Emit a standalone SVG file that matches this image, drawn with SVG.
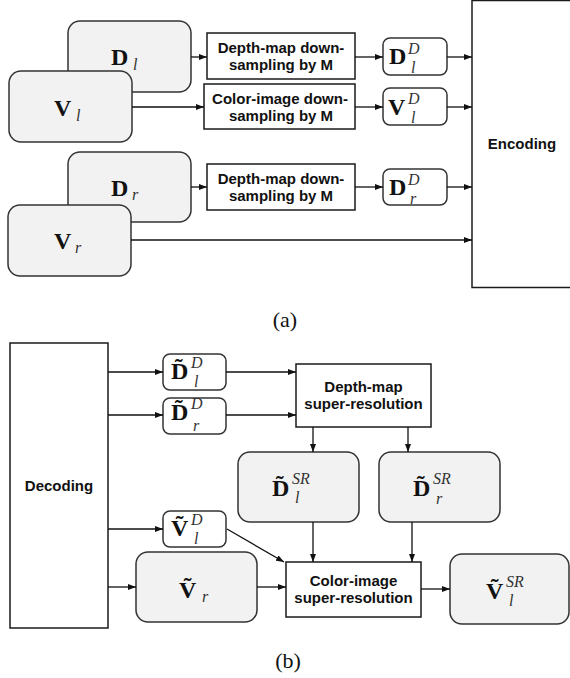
<svg xmlns="http://www.w3.org/2000/svg" width="570" height="678" viewBox="0 0 570 678">
<style>
.box{fill:#fff;stroke:#1a1a1a;stroke-width:1.5}
.rbox{fill:#f2f2f2;stroke:#333;stroke-width:1.5}
.sbox{fill:#fff;stroke:#333;stroke-width:1.5}
.lbl{font-family:"Liberation Sans",Arial,sans-serif;font-weight:bold;font-size:15px;fill:#111;text-anchor:middle}
.m{font-family:"Liberation Serif","Times New Roman",serif;font-weight:bold;font-size:24px;fill:#111}
.s{font-family:"Liberation Serif","Times New Roman",serif;font-style:italic;font-size:16px;fill:#333}
.cap{font-family:"Liberation Serif","Times New Roman",serif;font-size:22px;fill:#111;text-anchor:middle}
.c{stroke:#111;stroke-width:1.3;fill:none;marker-end:url(#ah)}
</style>
<defs>
<marker id="ah" markerWidth="8" markerHeight="6" refX="8" refY="3" orient="auto" markerUnits="userSpaceOnUse">
<path d="M0,0 L8,3 L0,6 z" fill="#111"/>
</marker>
</defs>

<!-- (a) -->
<g id="Dl"><rect class="rbox" x="68" y="21" width="123" height="71" rx="12"/><text class="m" x="111" y="65">D</text><text class="s" x="133" y="70">l</text></g>
<g id="Vl"><rect class="rbox" x="9" y="71" width="123" height="71" rx="12"/><text class="m" x="54" y="116">V</text><text class="s" x="76" y="121">l</text></g>
<g id="Dr"><rect class="rbox" x="68" y="152" width="123" height="70" rx="12"/><text class="m" x="111" y="196">D</text><text class="s" x="132" y="200">r</text></g>
<g id="Vr"><rect class="rbox" x="8" y="205" width="123" height="71" rx="12"/><text class="m" x="54" y="249">V</text><text class="s" x="75" y="253">r</text></g>

<g id="dsD1"><rect class="box" x="207" y="33" width="148" height="46"/><text class="lbl" x="281" y="53">Depth-map down-</text><text class="lbl" x="281" y="70">sampling by M</text></g>
<g id="dsV"><rect class="box" x="204" y="84" width="151" height="45"/><text class="lbl" x="280" y="104">Color-image down-</text><text class="lbl" x="281" y="121">sampling by M</text></g>
<g id="dsD2"><rect class="box" x="207" y="164" width="148" height="46"/><text class="lbl" x="281" y="184">Depth-map down-</text><text class="lbl" x="281" y="201">sampling by M</text></g>

<g id="DlD"><rect class="sbox" x="383" y="38" width="64" height="37" rx="7"/><text class="m" x="389" y="64">D</text><text class="s" x="408" y="54">D</text><text class="s" x="411" y="73">l</text></g>
<g id="VlD"><rect class="sbox" x="383" y="88" width="64" height="37" rx="7"/><text class="m" x="388" y="115">V</text><text class="s" x="408" y="104">D</text><text class="s" x="411" y="123">l</text></g>
<g id="DrD"><rect class="sbox" x="383" y="169" width="64" height="36" rx="7"/><text class="m" x="389" y="195">D</text><text class="s" x="408" y="185">D</text><text class="s" x="410" y="204">r</text></g>

<g id="enc"><rect class="box" x="472" y="0.5" width="110" height="287"/><text class="lbl" x="522" y="149">Encoding</text></g>

<text class="cap" x="285" y="327">(a)</text>

<!-- (b) -->
<g id="dec"><rect class="box" x="10" y="343" width="98" height="285"/><text class="lbl" x="59" y="491">Decoding</text></g>

<g id="tDlD"><rect class="sbox" x="163" y="354" width="63" height="36" rx="7"/><text class="m" x="171" y="379">D&#x303;</text><text class="s" x="191" y="368">D</text><text class="s" x="194" y="387">l</text></g>
<g id="tDrD"><rect class="sbox" x="163" y="398" width="63" height="36" rx="7"/><text class="m" x="171" y="420">D&#x303;</text><text class="s" x="191" y="409">D</text><text class="s" x="193" y="431">r</text></g>
<g id="tVlD"><rect class="sbox" x="163" y="511" width="63" height="36" rx="7"/><text class="m" x="171" y="536">V&#x303;</text><text class="s" x="191" y="525">D</text><text class="s" x="194" y="544">l</text></g>

<g id="dsr"><rect class="box" x="296" y="364" width="135" height="63"/><text class="lbl" x="363.5" y="392">Depth-map</text><text class="lbl" x="363.5" y="409">super-resolution</text></g>

<g id="tDlSR"><rect class="rbox" x="238" y="452" width="121" height="70" rx="12"/><text class="m" x="272" y="496">D&#x303;</text><text class="s" x="292" y="484">SR</text><text class="s" x="295" y="503">l</text></g>
<g id="tDrSR"><rect class="rbox" x="379" y="452" width="121" height="70" rx="12"/><text class="m" x="413" y="496">D&#x303;</text><text class="s" x="433" y="484">SR</text><text class="s" x="436" y="504">r</text></g>
<g id="tVr"><rect class="rbox" x="136" y="552" width="121" height="70" rx="12"/><text class="m" x="179" y="598">V&#x303;</text><text class="s" x="202" y="602">r</text></g>

<g id="csr"><rect class="box" x="286" y="562" width="135" height="55"/><text class="lbl" x="353.5" y="586">Color-image</text><text class="lbl" x="353.5" y="603">super-resolution</text></g>

<g id="tVlSR"><rect class="rbox" x="450" y="554" width="119" height="70" rx="12"/><text class="m" x="486" y="599">V&#x303;</text><text class="s" x="506" y="587">SR</text><text class="s" x="509" y="606">l</text></g>

<text class="cap" x="288" y="668">(b)</text>

<g id="connectors">
<path class="c" d="M191,57 H207"/>
<path class="c" d="M355,57 H383"/>
<path class="c" d="M447,57 H472"/>
<path class="c" d="M132,107 H204"/>
<path class="c" d="M355,107 H383"/>
<path class="c" d="M447,107 H472"/>
<path class="c" d="M191,187 H207"/>
<path class="c" d="M355,187 H383"/>
<path class="c" d="M447,187 H472"/>
<path class="c" d="M131,240 H472"/>

<path class="c" d="M108,372 H163"/>
<path class="c" d="M108,415 H163"/>
<path class="c" d="M226,372 H296"/>
<path class="c" d="M226,415 H296"/>
<path class="c" d="M313,427 V452"/>
<path class="c" d="M408,427 V452"/>
<path class="c" d="M108,529 H163"/>
<path class="c" d="M108,587 H136"/>
<path class="c" d="M227,529 L284,562"/>
<path class="c" d="M313,522 V562"/>
<path class="c" d="M412,522 V562"/>
<path class="c" d="M257,587 H286"/>
<path class="c" d="M421,589 H450"/>
</g>
</svg>
